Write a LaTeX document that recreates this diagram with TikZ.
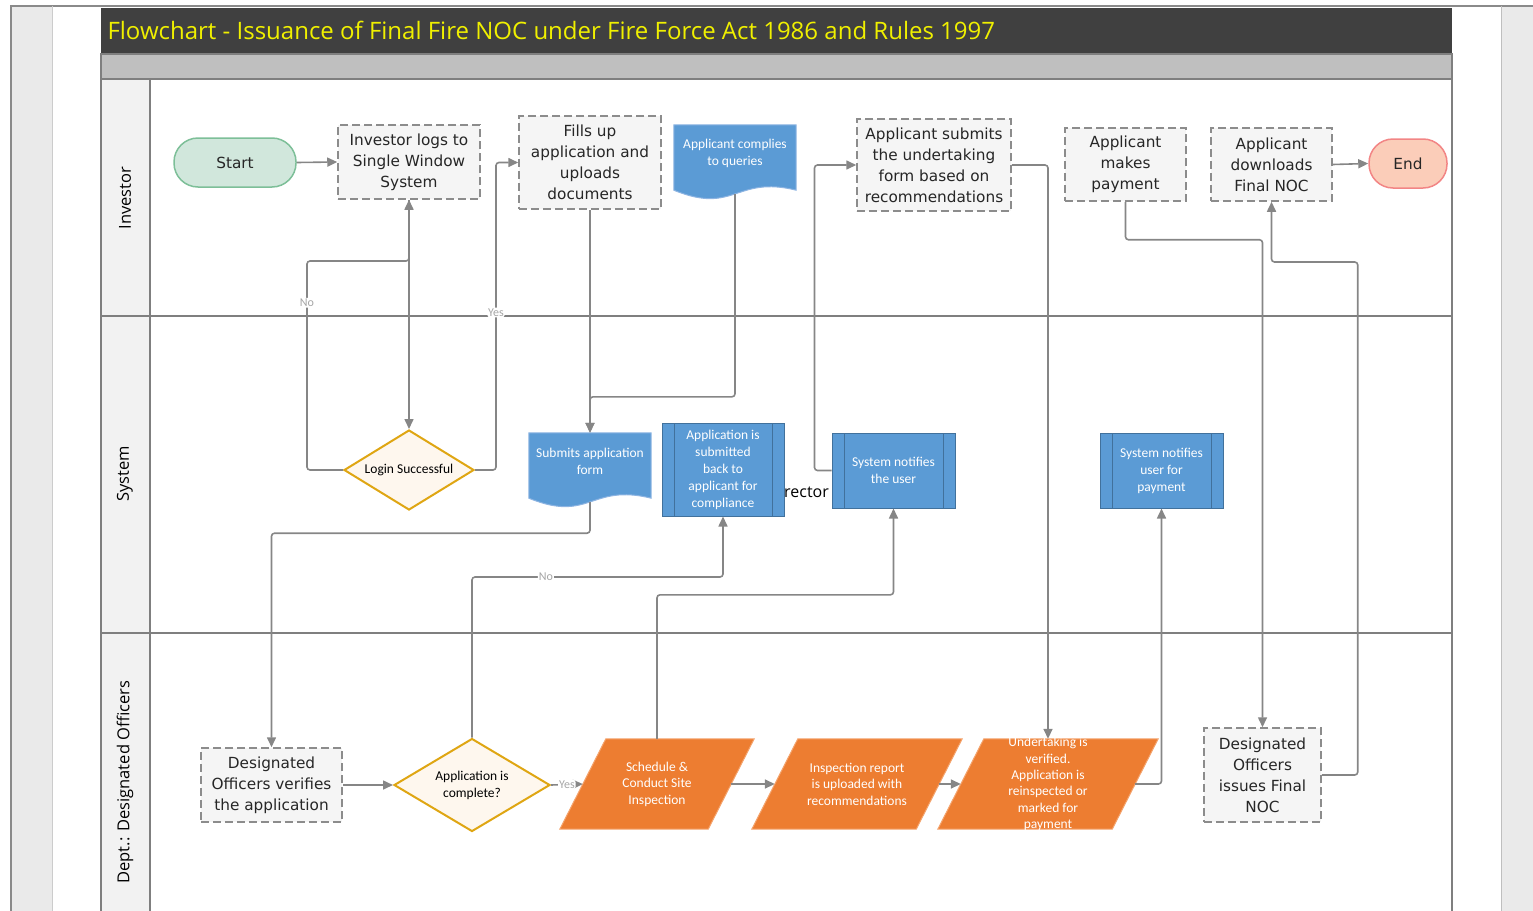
\documentclass[tikz,border=0pt]{standalone}
\usepackage{fontspec}
\setmainfont{DejaVu Sans}
\newfontfamily\calfont{Carlito}
\newfontfamily\opfont{Open Sans}
\usetikzlibrary{shapes.geometric, arrows.meta, calc, backgrounds}

\definecolor{framegray}{HTML}{8A8A8A}
\definecolor{stripgray}{HTML}{EAEAEA}
\definecolor{titlebg}{HTML}{404040}
\definecolor{titletext}{HTML}{F0F000}
\definecolor{bandgray}{HTML}{BFBFBF}
\definecolor{lanegray}{HTML}{F2F2F2}
\definecolor{poolline}{HTML}{7F7F7F}
\definecolor{flowgray}{HTML}{868686}
\definecolor{lblgray}{HTML}{A6A6A6}
\definecolor{boxfill}{HTML}{F5F5F5}
\definecolor{boxline}{HTML}{8C8C8C}
\definecolor{docblue}{HTML}{5B9BD5}
\definecolor{docedge}{HTML}{8DB4E2}
\definecolor{procedge}{HTML}{41719C}
\definecolor{orangefill}{HTML}{ED7D31}
\definecolor{orangeedge}{HTML}{F4A46E}
\definecolor{decfill}{HTML}{FEF7EE}
\definecolor{decline}{HTML}{DFA613}
\definecolor{startfill}{HTML}{D1E7DC}
\definecolor{startline}{HTML}{7DBF98}
\definecolor{endfill}{HTML}{FBCDB9}
\definecolor{endline}{HTML}{F28585}
\definecolor{textdark}{HTML}{262626}

\tikzset{
	lane/.style = {draw = poolline, line width = 1.5pt},
	lanelbl/.style = {rotate = 90, font = {\opfont\fontsize{16.5}{20}\selectfont}, text = black},
	gbox/.style = {draw = boxline, fill = boxfill, line width = 1.5pt, dash pattern = on 8pt off 4pt,
		align = center, inner sep = 0pt, text = textdark, font = {\fontsize{15.3}{21}\selectfont}},
	pill/.style = {rounded corners = 24pt, line width = 1.5pt, minimum height = 49pt, inner sep = 0pt,
		text = textdark, font = {\fontsize{15.3}{21}\selectfont}},
	docnode/.style = {align = center, text = white, inner sep = 0pt, minimum width = 122pt,
		minimum height = 56pt, font = {\calfont\fontsize{13.5}{17}\selectfont}},
	procbox/.style = {draw = procedge, fill = docblue, line width = 1pt, align = center, text = white,
		inner sep = 0pt, font = {\calfont\fontsize{13.5}{17}\selectfont},
		path picture = {
			\draw [procedge, line width = 1pt]
				([xshift = 12pt] path picture bounding box.north west) -- ([xshift = 12pt] path picture bounding box.south west)
				([xshift = -12pt] path picture bounding box.north east) -- ([xshift = -12pt] path picture bounding box.south east);
		}},
	decision/.style = {diamond, draw = decline, fill = decfill, line width = 2pt, inner sep = 0pt,
		align = center, text = black, font = {\calfont\fontsize{13.5}{17}\selectfont}},
	slanted/.style = {minimum height = 90pt, inner sep = 0pt, align = center, text = white,
		font = {\calfont\fontsize{13.5}{16.4}\selectfont}},
	flow/.style = {draw = flowgray, line width = 1.6pt, rounded corners = 3pt, ->},
	lbl/.style = {fill = white, text = lblgray, inner sep = 1pt, font = {\calfont\fontsize{12}{14}\selectfont}}
}

\begin{document}
\begin{tikzpicture}[x = 1pt, y = -1pt, > = {Triangle[length = 10pt, width = 9pt]}]

	\useasboundingbox (0, 0) rectangle (1533, 910);

	% page frame
	\fill [stripgray] (11, 6) rectangle (52, 912);
	\fill [stripgray] (1501, 6) rectangle (1535, 912);
	\draw [framegray, line width = 1.5pt] (11, 912) -- (11, 6) -- (1535, 6);
	\draw [gray!40, line width = 1pt] (52, 6) -- (52, 912);
	\draw [gray!50, line width = 1pt] (1501, 6) -- (1501, 912);

	% title and pool
	\fill [titlebg] (101, 8) rectangle (1452, 54);
	\node [anchor = west, text = titletext, font = {\opfont\fontsize{24}{28}\selectfont}] (title) at (104, 30)
		{Flowchart - Issuance of Final Fire NOC under Fire Force Act 1986 and Rules 1997};
	\draw [lane, fill = bandgray] (101, 54) rectangle (1452, 79);

	\fill [lanegray] (101, 79) rectangle (150, 912);
	\draw [lane] (101, 79) rectangle (1452, 912);
	\draw [lane] (150, 79) -- (150, 912);
	\draw [lane] (101, 316) -- (1452, 316);
	\draw [lane] (101, 633) -- (1452, 633);

	\node [lanelbl] (laneinv) at (125, 198) {Investor};
	\node [lanelbl] (lanesys) at (125, 474) {System};
	\node [lanelbl] (lanedept) at (125, 782) {Dept.: Designated Officers};

	% investor lane
	\node [pill, draw = startline, fill = startfill, minimum width = 122pt] (start) at (235, 162.5) {Start};
	\node [gbox, minimum width = 142pt, minimum height = 74pt] (login) at (409, 162) {Investor logs to\\Single Window\\System};
	\node [gbox, minimum width = 142pt, minimum height = 93pt] (fills) at (590, 162.5) {Fills up\\application and\\uploads\\documents};
	\node [docnode] (complies) at (735, 153) {Applicant complies\\to queries};
	\node [gbox, minimum width = 154pt, minimum height = 92pt] (uform) at (934, 165) {Applicant submits\\the undertaking\\form based on\\recommendations};
	\node [gbox, minimum width = 121pt, minimum height = 73pt] (payment) at (1125.5, 164.5) {Applicant\\makes\\payment};
	\node [gbox, minimum width = 121pt, minimum height = 73pt] (downloads) at (1271.5, 164.5) {Applicant\\downloads\\Final NOC};
	\node [pill, draw = endline, fill = endfill, minimum width = 78pt] (finish) at (1408, 163.5) {End};

	% system lane
	\node [decision, aspect = 1.625, minimum width = 130pt, minimum height = 80pt] (logindec) at (409, 470) {Login Successful};
	\node [docnode] (submits) at (590, 461) {Submits application\\form};
	\node [procbox, minimum width = 122pt, minimum height = 93pt] (backbox) at (723, 469.5) {Application is\\submitted\\back to\\applicant for\\compliance};
	\node [anchor = west, inner sep = 0pt, font = {\opfont\fontsize{16}{19}\selectfont}] (rector) at (784, 492) {rector};
	\node [procbox, minimum width = 123pt, minimum height = 75pt] (notify) at (893.5, 470.5) {System notifies\\the user};
	\node [procbox, minimum width = 123pt, minimum height = 75pt] (notifypay) at (1161.5, 470.5) {System notifies\\user for\\payment};

	% officers lane
	\node [gbox, minimum width = 141pt, minimum height = 74pt] (verifies) at (271.5, 785) {Designated\\Officers verifies\\the application};
	\node [decision, aspect = 1.68, minimum width = 156pt, minimum height = 93pt] (complete) at (472, 785) {Application is\\complete?};
	\node [slanted, minimum width = 148pt] (schedule) at (657, 784) {Schedule \&\\Conduct Site\\Inspection};
	\node [slanted, minimum width = 164pt] (inspection) at (857, 784) {Inspection report\\is uploaded with\\recommendations};
	\node [slanted, minimum width = 174pt] (verified) at (1048, 784)
		{\smash{\raisebox{-4pt}{\begin{tabular}{@{}c@{}}Undertaking is\\verified.\\Application is\\reinspected or\\marked for\\payment\end{tabular}}}};
	\node [gbox, minimum width = 117pt, minimum height = 94pt] (issues) at (1262.5, 775) {Designated\\Officers\\issues Final\\NOC};

	% wavy documents and slanted boxes
	\begin{pgfonlayer}{background}
		\foreach \d in {complies, submits}
			\draw [fill = docblue, draw = docedge, line width = 1pt] (\d.north west) -- (\d.north east)
				-- ($(\d.south east) + (0, 9)$) .. controls +(-61, -15) and +(61, 25) .. ($(\d.south west) + (0, 9)$) -- cycle;
		\foreach \p in {schedule, inspection, verified}
			\draw [fill = orangefill, draw = orangeedge, line width = 1pt]
				([xshift = 23pt] \p.north west) -- ([xshift = 23pt] \p.north east)
				-- ([xshift = -23pt] \p.south east) -- ([xshift = -23pt] \p.south west) -- cycle;
	\end{pgfonlayer}

	% connectors
	\draw [flow] (start.east) -- (login.west);
	\draw [flow] (login.south) -- (logindec.north);
	\draw [flow] (logindec.west) -- ++(-36, 0) -- node [lbl, pos = 0.8] {No} ++(0, -209) -| (login.south);
	\draw [flow] (logindec.east) -- ++(21, 0) |- node [lbl, pos = 0.256] {Yes} (fills.west);
	\draw [flow] (fills.south) -- (submits.north);
	\draw [flow] ([yshift = -13pt] complies.south) |- ([yshift = 36pt] submits.north) -- (submits.north);
	\draw [flow] ([yshift = -13pt] submits.south) -- ++(0, 31) -| (verifies.north);
	\draw [flow] (verifies.east) -- (complete.west);
	\draw [flow] (complete.north) -- ++(0, -160.5) -| node [lbl, pos = 0.147] {No} (backbox.south);
	\draw [flow] (complete.east) -- node [lbl] {Yes} (schedule.west);
	\draw [flow] (schedule.north) -- ++(0, -144) -| (notify.south);
	\draw [flow] (schedule.east) -- (inspection.west);
	\draw [flow] (inspection.east) -- (verified.west);
	\draw [flow] (notify.west) -- ++(-17, 0) |- (uform.west);
	\draw [flow] (uform.east) -| (verified.north);
	\draw [flow] (verified.east) -| (notifypay.south);
	\draw [flow] (payment.south) -- ++(0, 38) -| (issues.north);
	\draw [flow] (issues.east) -- ++(36, 0) -- ++(0, -513) -| (downloads.south);
	\draw [flow] (downloads.east) -- (finish.west);

\end{tikzpicture}
\end{document}
